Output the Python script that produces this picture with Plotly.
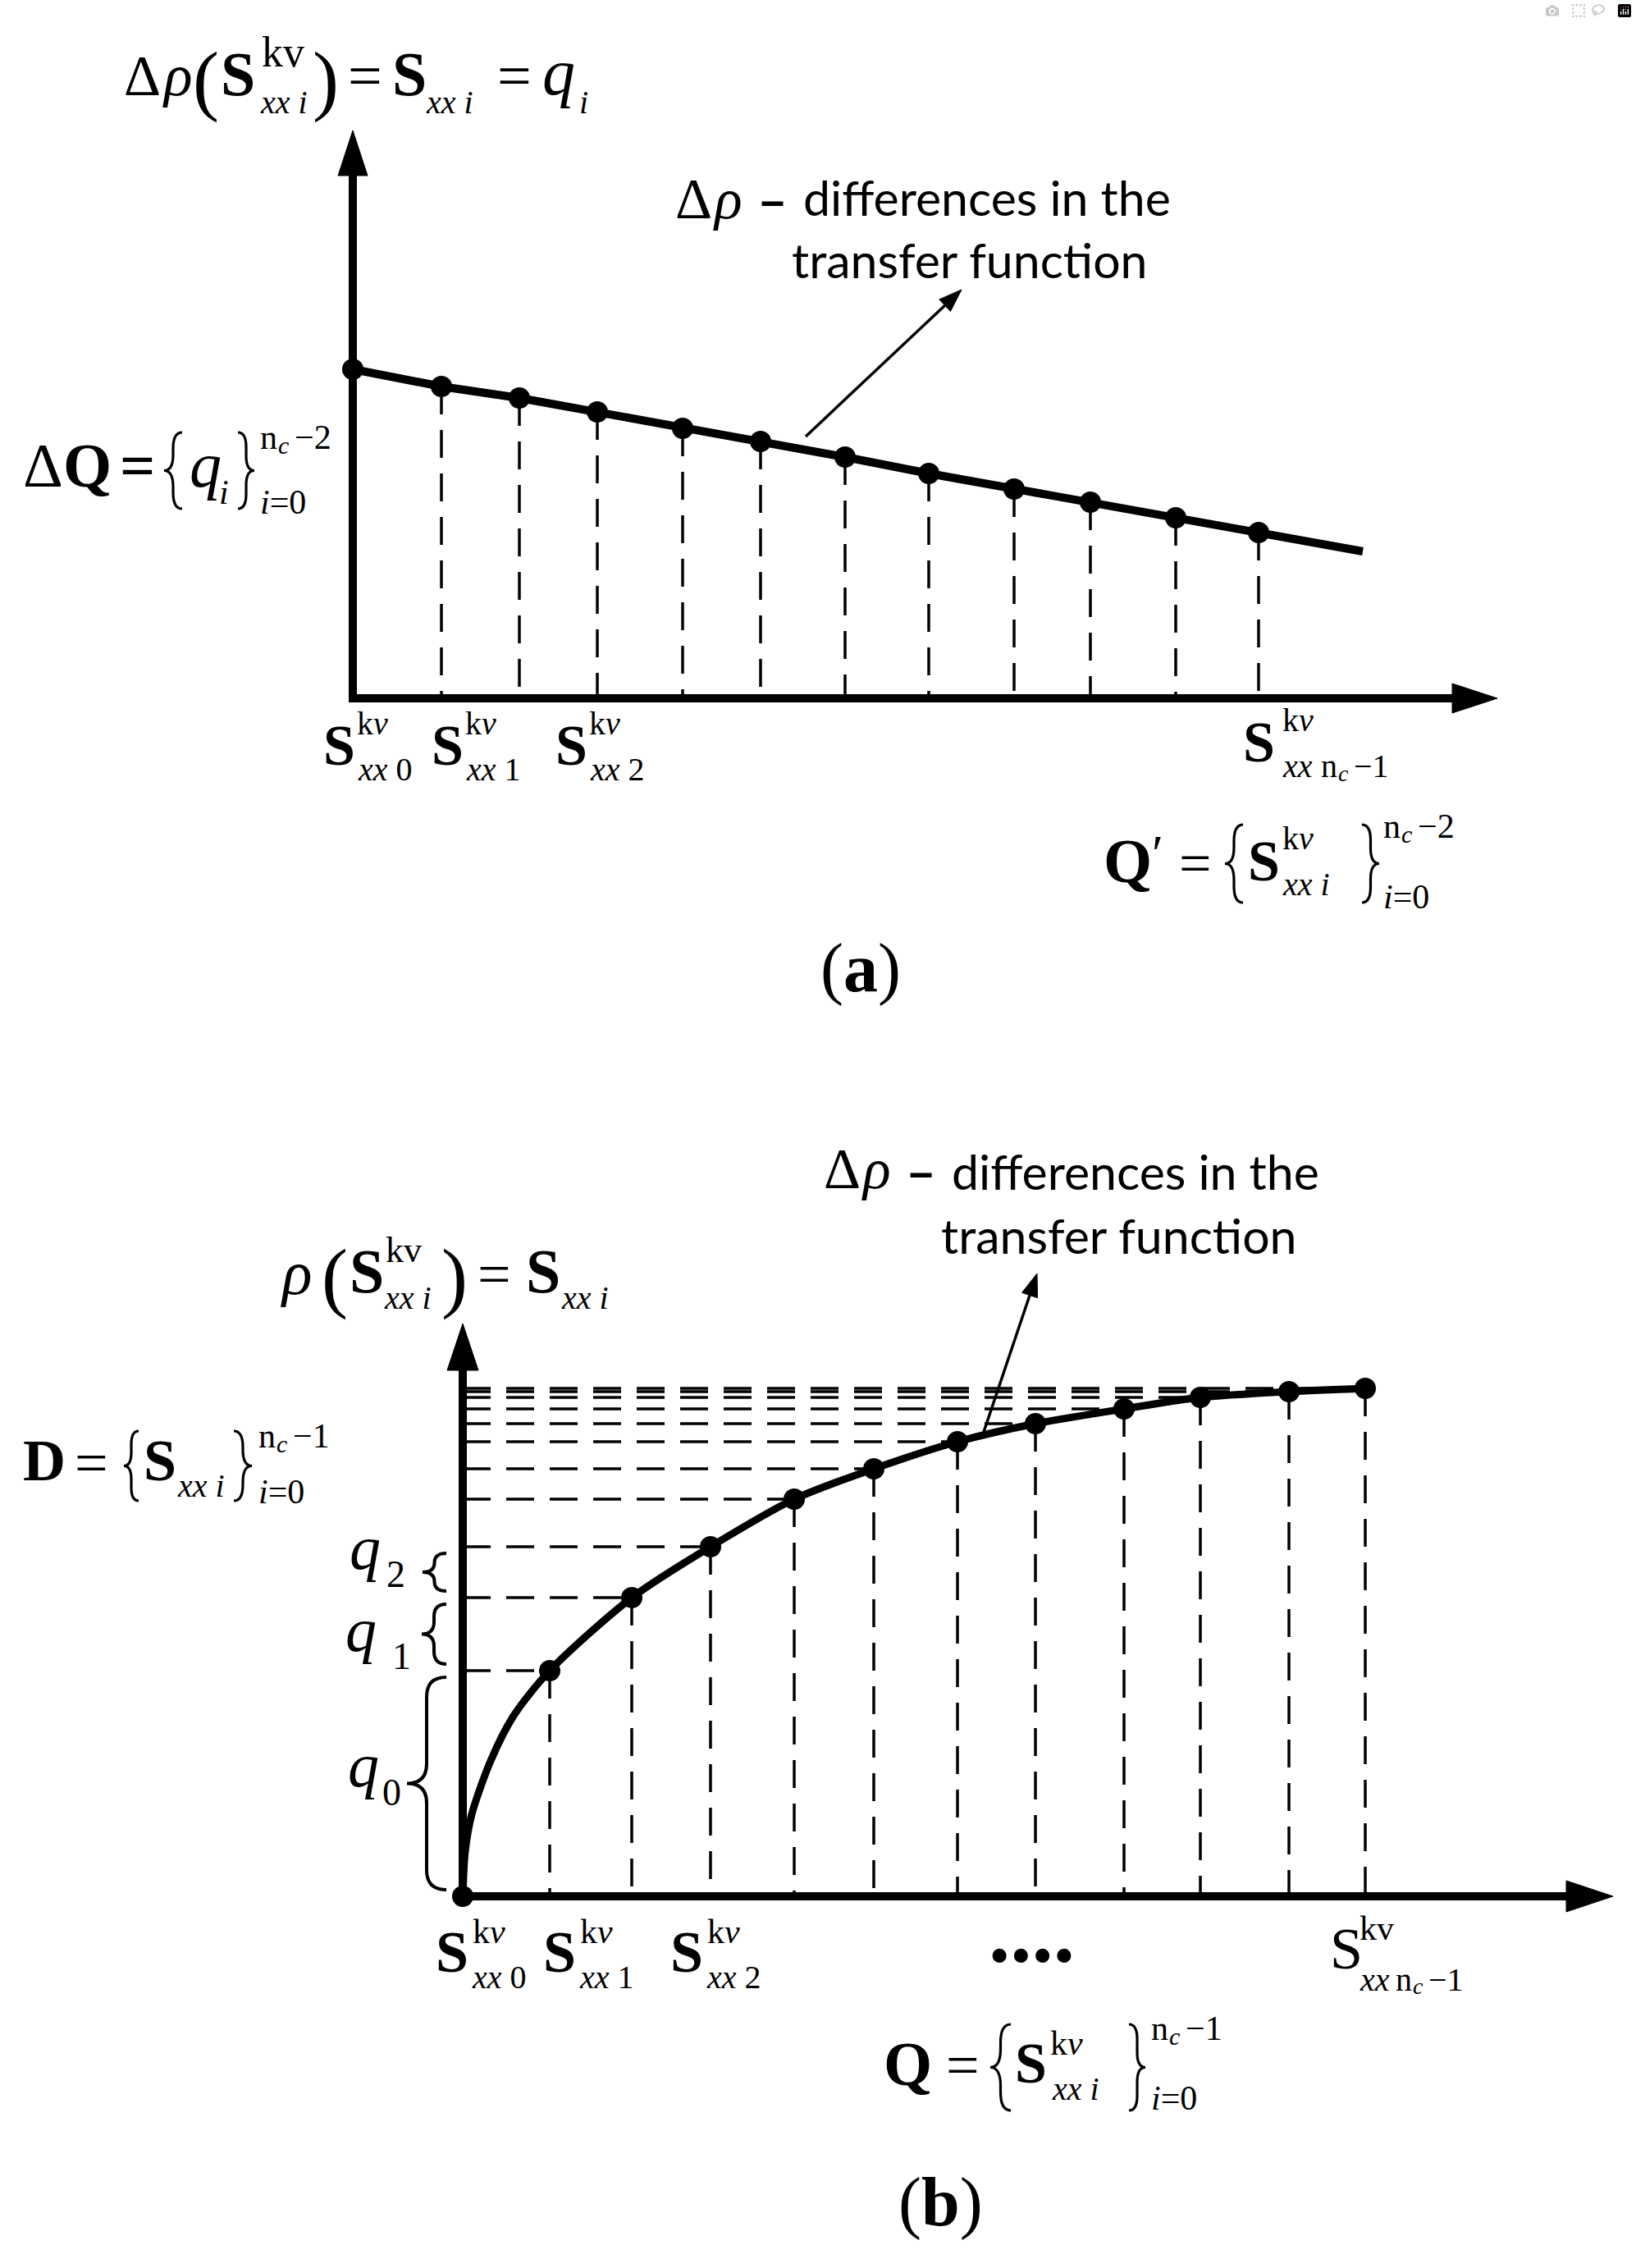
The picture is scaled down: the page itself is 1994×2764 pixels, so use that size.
import plotly.graph_objects as go

W, H = 1994, 2764
SERIF = "Liberation Serif"
SANS = "Lato"

# ---------------- panel (a): linear differences of the transfer function ----------------
a_x = [0.00, 1.08, 2.03, 2.98, 4.02, 4.97, 6.00, 7.02, 8.06, 8.99, 10.03, 11.04]
a_drho = [4.01, 3.80, 3.66, 3.49, 3.29, 3.13, 2.94, 2.74, 2.55, 2.39, 2.20, 2.02]
a_line_x = a_x + [12.31]
a_line_y = a_drho + [1.79]
a_axis_x_end = 13.95
a_axis_y_end = 6.92

# ---------------- panel (b): transfer function samples ----------------
b_x = [0.00, 1.06, 2.06, 3.02, 4.04, 5.01, 6.03, 6.98, 8.06, 8.99, 10.07, 11.00]
b_rho = [0.00, 2.75, 3.64, 4.26, 4.84, 5.21, 5.54, 5.76, 5.94, 6.08, 6.15, 6.19]
b_curve_x = [0.00, 0.03, 0.11, 0.34, 0.62] + b_x[1:]
b_curve_y = [0.00, 0.55, 1.00, 1.65, 2.20] + b_rho[1:]
b_axis_x_end = 14.02
b_axis_y_end = 6.98

tick_subs = ["0", "1", "2"]
q_names = ["0", "1", "2"]

# ---------------- layout constants (pixel geometry of the page) ----------------
A_ORIGIN = (430, 851)
B_ORIGIN = (564, 2311)
UNIT = 100.0  # pixels per data unit

fig = go.Figure()
shapes = []
DASH = "34px,19px"


def P(x, y):
    """pixel position on the page -> paper coordinates"""
    return x / W, 1 - y / H


def dashed_vertical(xs, ys, xa, ya):
    vx, vy = [], []
    for x, y in zip(xs[1:], ys[1:]):
        vx += [x, x, None]
        vy += [y, 0, None]
    fig.add_trace(go.Scatter(x=vx, y=vy, mode="lines", xaxis=xa, yaxis=ya,
                             line=dict(color="black", width=3.5, dash=DASH),
                             hoverinfo="skip", showlegend=False))


def dashed_horizontal(xs, ys, xa, ya):
    hx, hy = [], []
    for x, y in zip(xs[1:], ys[1:]):
        hx += [0, x, None]
        hy += [y, y, None]
    fig.add_trace(go.Scatter(x=hx, y=hy, mode="lines", xaxis=xa, yaxis=ya,
                             line=dict(color="black", width=3.5, dash=DASH),
                             hoverinfo="skip", showlegend=False))


def axes_with_arrows(xend, yend, xa, ya, L, hw):
    fig.add_trace(go.Scatter(x=[0, 0, xend - L], y=[yend - L, 0, 0], mode="lines",
                             xaxis=xa, yaxis=ya, line=dict(color="black", width=10),
                             hoverinfo="skip", showlegend=False))
    shapes.append(dict(type="path", xref=xa, yref=ya, fillcolor="black",
                       line=dict(color="black", width=1),
                       path=f"M{xend},0 L{xend - L},{hw} L{xend - L},{-hw} Z"))
    shapes.append(dict(type="path", xref=xa, yref=ya, fillcolor="black",
                       line=dict(color="black", width=1),
                       path=f"M0,{yend} L{-hw},{yend - L} L{hw},{yend - L} Z"))


def brace(ends_x, tip_x, top, bot, width=3.2):
    """curly brace drawn in page pixels; tip_x < ends_x gives '{', otherwise '}'"""
    xm = (ends_x + tip_x) / 2
    mid = (top + bot) / 2
    r = min(abs(ends_x - tip_x) * 0.9, (bot - top) / 4)
    pts = [("M", [(ends_x, top)]),
           ("Q", [(xm, top), (xm, top + r)]),
           ("L", [(xm, mid - r)]),
           ("Q", [(xm, mid), (tip_x, mid)]),
           ("Q", [(xm, mid), (xm, mid + r)]),
           ("L", [(xm, bot - r)]),
           ("Q", [(xm, bot), (ends_x, bot)])]
    path = " ".join(cmd + " ".join("%.5f,%.5f" % P(x, y) for x, y in seg) for cmd, seg in pts)
    shapes.append(dict(type="path", xref="paper", yref="paper", path=path,
                       line=dict(color="black", width=width)))


def pointer(tail, tip, L=28, hw=10, width=3.5):
    dx, dy = tip[0] - tail[0], tip[1] - tail[1]
    n = (dx * dx + dy * dy) ** 0.5
    ux, uy = dx / n, dy / n
    bx, by = tip[0] - L * ux, tip[1] - L * uy
    x0, y0 = P(*tail)
    x1, y1 = P(bx, by)
    shapes.append(dict(type="line", xref="paper", yref="paper", x0=x0, y0=y0, x1=x1, y1=y1,
                       line=dict(color="black", width=width)))
    pa = P(*tip)
    pb = P(bx - hw * uy, by + hw * ux)
    pc = P(bx + hw * uy, by - hw * ux)
    shapes.append(dict(type="path", xref="paper", yref="paper", fillcolor="black",
                       line=dict(color="black", width=1),
                       path="M%.5f,%.5f L%.5f,%.5f L%.5f,%.5f Z" % (pa + pb + pc)))


# panel (a)
dashed_vertical(a_x, a_drho, "x", "y")
axes_with_arrows(a_axis_x_end, a_axis_y_end, "x", "y", 0.55, 0.18)
fig.add_trace(go.Scatter(x=a_line_x, y=a_line_y, mode="lines", xaxis="x", yaxis="y",
                         line=dict(color="black", width=10), hoverinfo="skip", showlegend=False))
fig.add_trace(go.Scatter(x=a_x, y=a_drho, mode="markers", xaxis="x", yaxis="y",
                         marker=dict(color="black", size=26), hoverinfo="skip", showlegend=False))

# panel (b)
dashed_vertical(b_x, b_rho, "x2", "y2")
dashed_horizontal(b_x, b_rho, "x2", "y2")
axes_with_arrows(b_axis_x_end, b_axis_y_end, "x2", "y2", 0.57, 0.19)
fig.add_trace(go.Scatter(x=b_curve_x, y=b_curve_y, mode="lines", xaxis="x2", yaxis="y2",
                         line=dict(color="black", width=9, shape="spline", smoothing=0.8),
                         hoverinfo="skip", showlegend=False))
fig.add_trace(go.Scatter(x=b_x, y=b_rho, mode="markers", xaxis="x2", yaxis="y2",
                         marker=dict(color="black", size=26), hoverinfo="skip", showlegend=False))

# braces for q0, q1, q2 (between consecutive sample levels)
brace_w = [0.48, 0.30, 0.29]
brace_inset = 0.08
brace_xr = -0.20
for i in range(3):
    y0 = b_rho[i] + brace_inset
    y1 = b_rho[i + 1] - brace_inset
    w = brace_w[i]
    xr = brace_xr
    xm = xr - w / 2
    xl = xr - w
    mid = (y0 + y1) / 2
    r = min(w / 2, (y1 - y0) / 4)
    path = (f"M{xr},{y1} Q{xm},{y1} {xm},{y1 - r} L{xm},{mid + r} Q{xm},{mid} {xl},{mid} "
            f"Q{xm},{mid} {xm},{mid - r} L{xm},{y0 + r} Q{xm},{y0} {xr},{y0}")
    shapes.append(dict(type="path", xref="x2", yref="y2", path=path,
                       line=dict(color="black", width=4)))

# ---------------- text ----------------
ann = []


def T(x, y, text, size, family=SERIF, xanchor="left"):
    px, py = P(x, y)
    ann.append(dict(x=px, y=py, xref="paper", yref="paper", text=text,
                    showarrow=False, xanchor=xanchor, yanchor="middle", borderpad=0,
                    font=dict(family=family, size=size, color="black")))


def nc_minus(x, y, k, size=42):
    """'n_c −k' written as three pieces"""
    T(x, y, "n", size)
    T(x + 0.5 * size + 1, y + 0.22 * size, "<i>c</i>", int(size * 0.72))
    T(x + 0.5 * size + 0.36 * size + 6, y, "\u2212" + k, size)


D = "\u0394"
RHO = "<i>\u03c1</i>"
MIN = "\u2212"

# --- panel (a) y label: Δρ(S^kv_xx i) = S_xx i = q_i
T(150, 92, D, 70)
T(197, 92, RHO, 72)
T(268, 97, "(", 96, xanchor="right")
T(268, 90, "<b>S</b>", 76)
T(318, 63, "kv", 52)
T(316, 124, "<i>xx i</i>", 40)
T(380, 97, ")", 96)
T(423, 92, "=", 74)
T(477, 90, "<b>S</b>", 76)
T(518, 124, "<i>xx i</i>", 40)
T(605, 92, "=", 74)
T(660, 88, "<i>q</i>", 80)
T(705, 124, "<i>i</i>", 40)

# --- ΔQ = {q_i}
T(27, 567, D, 76)
T(76, 567, "<b>Q</b>", 76)
T(145, 567, "<b>=</b>", 76)
brace(222, 200, 527, 620)
T(230, 567, "<i>q</i>", 78)
T(266, 600, "<i>i</i>", 42)
brace(290, 310, 527, 620)
nc_minus(316, 533, "2")
T(316, 612, "<i>i</i>=0", 42)

# --- panel (a) x tick labels
for sub, sx in zip(tick_subs, [393, 525, 676]):
    T(sx, 908, "<b>S</b>", 70)
    T(sx + 41, 881, "k<i>v</i>", 40)
    T(sx + 42, 938, "<i>xx</i> " + sub, 40)
T(1514, 904, "<b>S</b>", 70)
T(1562, 878, "k<i>v</i>", 40)
T(1562, 934, "<i>xx</i>", 40)
nc_minus(1609, 934, "1", 40)

# --- Q' = {S^kv_xx i}
T(1344, 1049, "<b>Q</b>", 76)
T(1403, 1040, "\u2032", 64)
T(1436, 1052, "=", 70)
brace(1515, 1493, 1005, 1100)
T(1520, 1049, "<b>S</b>", 70)
T(1562, 1021, "k<i>v</i>", 40)
T(1562, 1077, "<i>xx i</i>", 40)
brace(1660, 1681, 1005, 1100)
nc_minus(1685, 1007, "2")
T(1685, 1093, "<i>i</i>=0", 42)

# --- pointer text (a)
T(822, 242, D, 70)
T(868, 242, RHO, 70)
T(922, 242, "<b>\u2013</b>", 64, SANS)
T(978, 240, "differences in the", 59, SANS)
T(964, 317, "transfer function", 59, SANS)
pointer((982, 532), (1172, 353))

T(1049, 1180, "(<b>a</b>)", 84, xanchor="center")

# --- panel (b) y label: ρ(S^kv_xx i) = S_xx i
T(341, 1551, RHO, 76)
T(425, 1555, "(", 96, xanchor="right")
T(425, 1549, "<b>S</b>", 76)
T(469, 1523, "kv", 44)
T(467, 1581, "<i>xx i</i>", 40)
T(537, 1555, ")", 96)
T(581, 1553, "=", 72)
T(640, 1549, "<b>S</b>", 76)
T(683, 1581, "<i>xx i</i>", 40)

# --- D = {S_xx i}
T(27, 1780, "<b>D</b>", 72)
T(90, 1783, "=", 72)
brace(169, 151, 1744, 1829)
T(174, 1780, "<b>S</b>", 72)
T(215, 1810, "<i>xx i</i>", 40)
brace(285, 307, 1744, 1829)
nc_minus(314, 1750, "1")
T(314, 1818, "<i>i</i>=0", 42)

# --- q labels
for name, qx, qy, sx in zip(q_names, [423, 420, 425], [2151, 1986, 1886], [465, 477, 470]):
    T(qx, qy, "<i>q</i>", 76)
    T(sx, qy + 33, name, 46)

# --- pointer text (b)
T(1003, 1424, D, 70)
T(1049, 1424, RHO, 70)
T(1103, 1426, "<b>\u2013</b>", 64, SANS)
T(1159, 1428, "differences in the", 59, SANS)
T(1146, 1505, "transfer function", 59, SANS)
pointer((1199, 1745), (1264, 1552))

# --- panel (b) x tick labels
for sub, sx in zip(tick_subs, [530, 661, 816]):
    T(sx, 2379, "<b>S</b>", 72)
    T(sx + 45, 2354, "k<i>v</i>", 42)
    T(sx + 44, 2409, "<i>xx</i> " + sub, 40)
T(1204, 2355, "<b>....</b>", 105)
T(1620, 2375, "S", 72)
T(1656, 2350, "kv", 42)
T(1656, 2412, "<i>xx</i>", 40)
nc_minus(1700, 2412, "1", 40)

# --- Q = {S^kv_xx i}
T(1076, 2515, "<b>Q</b>", 76)
T(1152, 2517, "=", 72)
brace(1232, 1207, 2467, 2572)
T(1236, 2514, "<b>S</b>", 70)
T(1279, 2490, "k<i>v</i>", 42)
T(1281, 2545, "<i>xx i</i>", 40)
brace(1376, 1396, 2467, 2572)
nc_minus(1402, 2472, "1")
T(1402, 2557, "<i>i</i>=0", 42)

T(1146, 2684, "(<b>b</b>)", 84, xanchor="center")

ax_common = dict(visible=False, showgrid=False, zeroline=False, fixedrange=True)
fig.update_layout(
    width=W, height=H, autosize=False,
    margin=dict(l=0, r=0, t=0, b=0, pad=0),
    paper_bgcolor="white", plot_bgcolor="rgba(0,0,0,0)",
    showlegend=False,
    xaxis=dict(domain=[0, 1], anchor="y",
               range=[-A_ORIGIN[0] / UNIT, (W - A_ORIGIN[0]) / UNIT], **ax_common),
    yaxis=dict(domain=[0, 1], anchor="x",
               range=[-(H - A_ORIGIN[1]) / UNIT, A_ORIGIN[1] / UNIT], **ax_common),
    xaxis2=dict(domain=[0, 1], anchor="y2",
                range=[-B_ORIGIN[0] / UNIT, (W - B_ORIGIN[0]) / UNIT], **ax_common),
    yaxis2=dict(domain=[0, 1], anchor="x2",
                range=[-(H - B_ORIGIN[1]) / UNIT, B_ORIGIN[1] / UNIT], **ax_common),
    shapes=shapes,
    annotations=ann,
)

fig.write_html("out.html",
               post_script="document.body.style.margin='0';document.body.style.overflow='hidden';")
